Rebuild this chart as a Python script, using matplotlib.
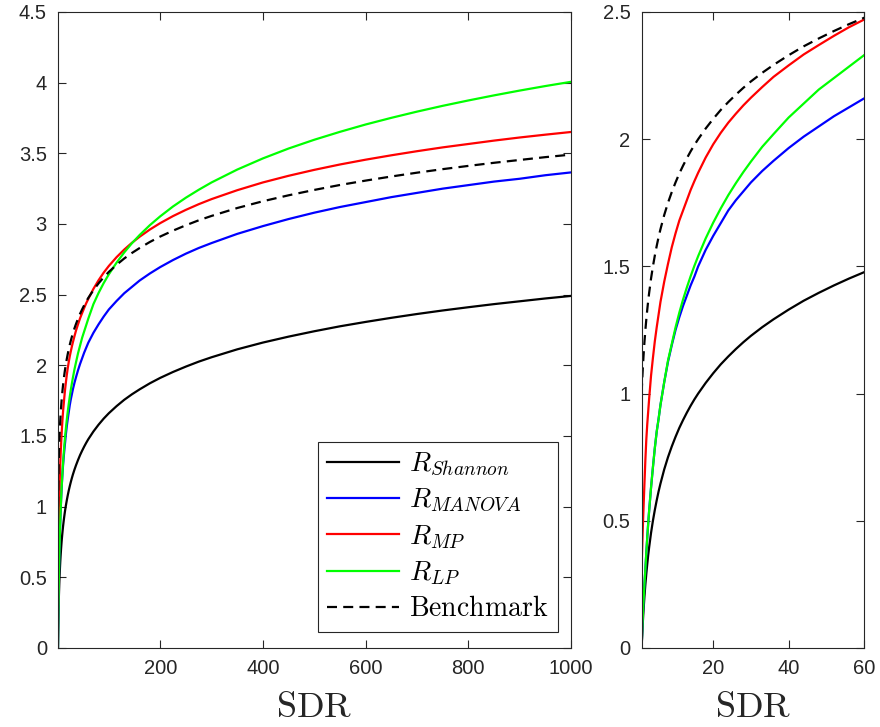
import numpy as np
import matplotlib.pyplot as plt

# values
sdr = [1, 1.1, 1.2, 1.35, 1.5, 1.75, 2, 2.25, 2.5, 2.75, 3, 3.5, 4, 4.5, 5, 5.5, 6, 7, 8, 9,
       10, 11, 12, 13, 14, 15, 16, 18, 20, 22, 24, 26, 28, 30, 33, 36, 40, 44, 48, 52,
       56, 60, 70, 80, 90, 100, 115, 130, 145, 160, 180, 200, 225, 250, 275, 300,
       350, 400, 450, 500, 550, 600, 650, 700, 750, 800, 850, 900, 950, 1000]

r_shannon = [0, 0.034, 0.066, 0.108, 0.146, 0.202, 0.25, 0.292, 0.330, 0.365, 0.396,
             0.452, 0.5, 0.542, 0.580, 0.615, 0.646, 0.702, 0.75, 0.792,
             0.830, 0.865, 0.896, 0.925, 0.952, 0.977, 1.0, 1.042, 1.080, 1.115,
             1.146, 1.175, 1.202, 1.227, 1.261, 1.292, 1.330, 1.365, 1.396, 1.425,
             1.452, 1.477, 1.532, 1.580, 1.623, 1.661, 1.711, 1.756, 1.795, 1.830,
             1.873, 1.911, 1.953, 1.991, 2.026, 2.057, 2.113, 2.161, 2.203, 2.241,
             2.276, 2.307, 2.336, 2.363, 2.388, 2.411, 2.433, 2.453, 2.473, 2.491]

r_manova = [0, 0.04, 0.08, 0.135, 0.18, 0.25, 0.31, 0.375, 0.435, 0.49, 0.54,
            0.63, 0.71, 0.785, 0.85, 0.90, 0.955, 1.045, 1.125, 1.19,
            1.25, 1.30, 1.345, 1.385, 1.425, 1.46, 1.50, 1.565, 1.62, 1.67,
            1.72, 1.76, 1.795, 1.83, 1.875, 1.915, 1.965, 2.01, 2.05, 2.09,
            2.125, 2.16, 2.23, 2.29, 2.345, 2.395, 2.455, 2.51, 2.555, 2.60,
            2.65, 2.695, 2.745, 2.79, 2.83, 2.865, 2.93, 2.985, 3.035, 3.08,
            3.12, 3.155, 3.19, 3.22, 3.25, 3.275, 3.30, 3.32, 3.345, 3.365]

r_mp = [0.31, 0.366, 0.417, 0.486, 0.547, 0.645, 0.74, 0.82, 0.88, 0.93, 0.98,
        1.07, 1.14, 1.205, 1.26, 1.31, 1.36, 1.44, 1.51, 1.575,
        1.63, 1.68, 1.72, 1.76, 1.80, 1.835, 1.868, 1.928, 1.98, 2.025,
        2.065, 2.10, 2.133, 2.163, 2.205, 2.245, 2.29, 2.333, 2.37, 2.406,
        2.44, 2.47, 2.541, 2.602, 2.656, 2.703, 2.765, 2.819, 2.867, 2.910,
        2.961, 3.006, 3.056, 3.100, 3.140, 3.176, 3.239, 3.294, 3.341, 3.383,
        3.421, 3.455, 3.486, 3.515, 3.542, 3.566, 3.590, 3.612, 3.632, 3.651]

r_lp = [0, 0.04, 0.08, 0.135, 0.18, 0.25, 0.31, 0.375, 0.435, 0.49, 0.54,
        0.63, 0.71, 0.785, 0.85, 0.90, 0.955, 1.045, 1.13, 1.195,
        1.26, 1.318, 1.37, 1.417, 1.461, 1.502, 1.54, 1.61, 1.672, 1.728,
        1.78, 1.827, 1.871, 1.912, 1.97, 2.02, 2.085, 2.14, 2.195, 2.24,
        2.285, 2.33, 2.433, 2.512, 2.582, 2.644, 2.726, 2.799, 2.864, 2.922,
        2.992, 3.054, 3.124, 3.186, 3.242, 3.294, 3.385, 3.464, 3.534, 3.596,
        3.652, 3.704, 3.751, 3.795, 3.836, 3.874, 3.910, 3.944, 3.976, 4.006]

benchmark = [1.0, 1.034, 1.066, 1.108, 1.146, 1.202, 1.25, 1.292, 1.330, 1.365, 1.396,
             1.452, 1.5, 1.542, 1.580, 1.615, 1.646, 1.702, 1.75, 1.792,
             1.830, 1.865, 1.896, 1.925, 1.952, 1.977, 2.0, 2.042, 2.080, 2.115,
             2.146, 2.175, 2.202, 2.227, 2.261, 2.292, 2.330, 2.365, 2.396, 2.425,
             2.452, 2.477, 2.532, 2.580, 2.623, 2.661, 2.711, 2.756, 2.795, 2.830,
             2.873, 2.911, 2.953, 2.991, 3.026, 3.057, 3.113, 3.161, 3.203, 3.241,
             3.276, 3.307, 3.336, 3.363, 3.388, 3.411, 3.433, 3.453, 3.473, 3.491]

series = [
    (r_shannon, 'k', '-', r'$R_{Shannon}$'),
    (r_manova, (0, 0, 1), '-', r'$R_{MANOVA}$'),
    (r_mp, (1, 0, 0), '-', r'$R_{MP}$'),
    (r_lp, (0, 1, 0), '-', r'$R_{LP}$'),
    (benchmark, 'k', '--', r'$\mathrm{Benchmark}$'),
]

plt.rcParams['font.family'] = ['Liberation Sans', 'DejaVu Sans']
plt.rcParams['mathtext.fontset'] = 'cm'

axcol = (0.15, 0.15, 0.15)

fig = plt.figure(figsize=(8.8, 7.27), dpi=100)
ax1 = fig.add_axes([0.0659, 0.1087, 0.5830, 0.8748])
ax2 = fig.add_axes([0.7291, 0.1087, 0.2527, 0.8748])

for ax in (ax1, ax2):
    for y, c, ls, lab in series:
        line, = ax.plot(sdr, y, color=c, linestyle=ls, lw=1.6, label=lab)
        if ls == '--':
            line.set_dashes((4.5, 2.8))
    ax.tick_params(direction='in', top=True, right=True, length=6, width=0.8,
                   colors=axcol, labelsize=14.5, pad=8)
    for s in ax.spines.values():
        s.set_color(axcol)
        s.set_linewidth(0.8)
    ax.set_xlabel(r'$\mathrm{SDR}$', fontsize=26, color=axcol, labelpad=8.5)
    ax.yaxis.set_major_formatter(plt.FuncFormatter(lambda v, p: '%g' % v))

ax1.set_xlim(1, 1000)
ax1.set_ylim(0, 4.5)
ax1.set_xticks([200, 400, 600, 800, 1000])
ax1.set_yticks(np.arange(0, 4.51, 0.5))

ax2.set_xlim(1, 60)
ax2.set_ylim(0, 2.5)
ax2.set_xticks([20, 40, 60])
ax2.set_yticks(np.arange(0, 2.51, 0.5))

leg = ax1.legend(loc='lower right', bbox_to_anchor=(0.975, 0.025), borderaxespad=0,
                 fontsize=20, fancybox=False, framealpha=1, edgecolor=axcol,
                 handlelength=2.6, labelspacing=0.32, borderpad=0.35,
                 handletextpad=0.35)
leg.get_frame().set_linewidth(0.8)

fig.savefig('out.png', dpi=100)
